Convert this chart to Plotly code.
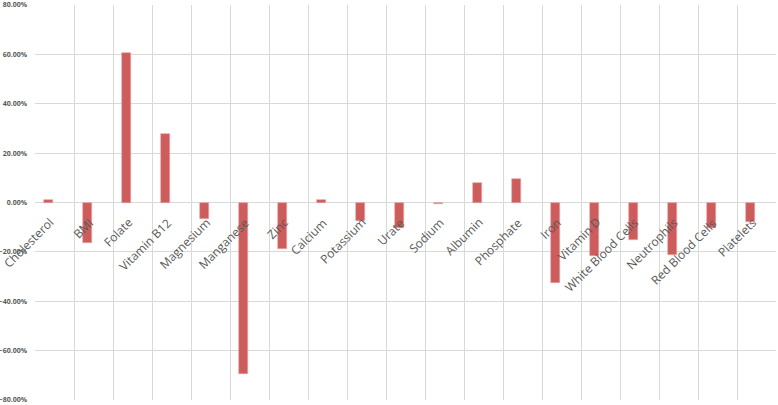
import plotly.graph_objects as go

categories = ["Cholesterol", "BMI", "Folate", "Vitamin B12", "Magnesium", "Manganese",
              "Zinc", "Calcium", "Potassium", "Urate", "Sodium", "Albumin", "Phosphate",
              "Iron", "Vitamin D", "White Blood Cells", "Neutrophils", "Red Blood Cells",
              "Platelets"]
values = [0.010, -0.163, 0.605, 0.277, -0.065, -0.695,
          -0.190, 0.010, -0.075, -0.105, -0.008, 0.078, 0.097,
          -0.327, -0.218, -0.150, -0.213, -0.104, -0.080]
ytick_vals = [-0.8, -0.6, -0.4, -0.2, 0.0, 0.2, 0.4, 0.6, 0.8]

fig = go.Figure()
fig.add_trace(go.Bar(
    x=categories, y=values,
    width=0.22, offset=-0.27,
    marker=dict(color="#CD5C5C", line=dict(color="#E8A0A0", width=0.6)),
    showlegend=False, hoverinfo="skip",
))

for c in categories:
    fig.add_annotation(
        x=c, y=0, xref="x", yref="y", text=c, showarrow=False,
        textangle=-45, xanchor="right", yanchor="top",
        xshift=6, yshift=-9,
        font=dict(family="Open Sans", size=12, color="#595959"),
    )

fig.update_layout(
    width=778, height=405,
    margin=dict(l=35, r=2, t=5, b=5, autoexpand=False),
    plot_bgcolor="white", paper_bgcolor="white",
    bargap=0,
)
fig.update_xaxes(
    type="category", tickson="boundaries", showticklabels=False,
    showgrid=True, gridcolor="#D9D9D9", gridwidth=1,
    showline=False, zeroline=False, ticks="", automargin=False,
    range=[-0.5, len(categories) - 0.5],
)
fig.update_yaxes(
    range=[-0.8, 0.8], tickvals=ytick_vals, tickformat=".2%",
    showgrid=True, gridcolor="#D9D9D9", gridwidth=1,
    zeroline=True, zerolinecolor="#D9D9D9", zerolinewidth=1,
    tickfont=dict(family="Open Sans", size=7, color="#595959", weight="bold"),
    ticks="", ticklabelstandoff=7, automargin=False, ticklabeloverflow="allow",
)
fig.write_html("out.html", config={"displayModeBar": False},
               post_script="document.body.style.margin='0';document.body.style.overflow='hidden';")
